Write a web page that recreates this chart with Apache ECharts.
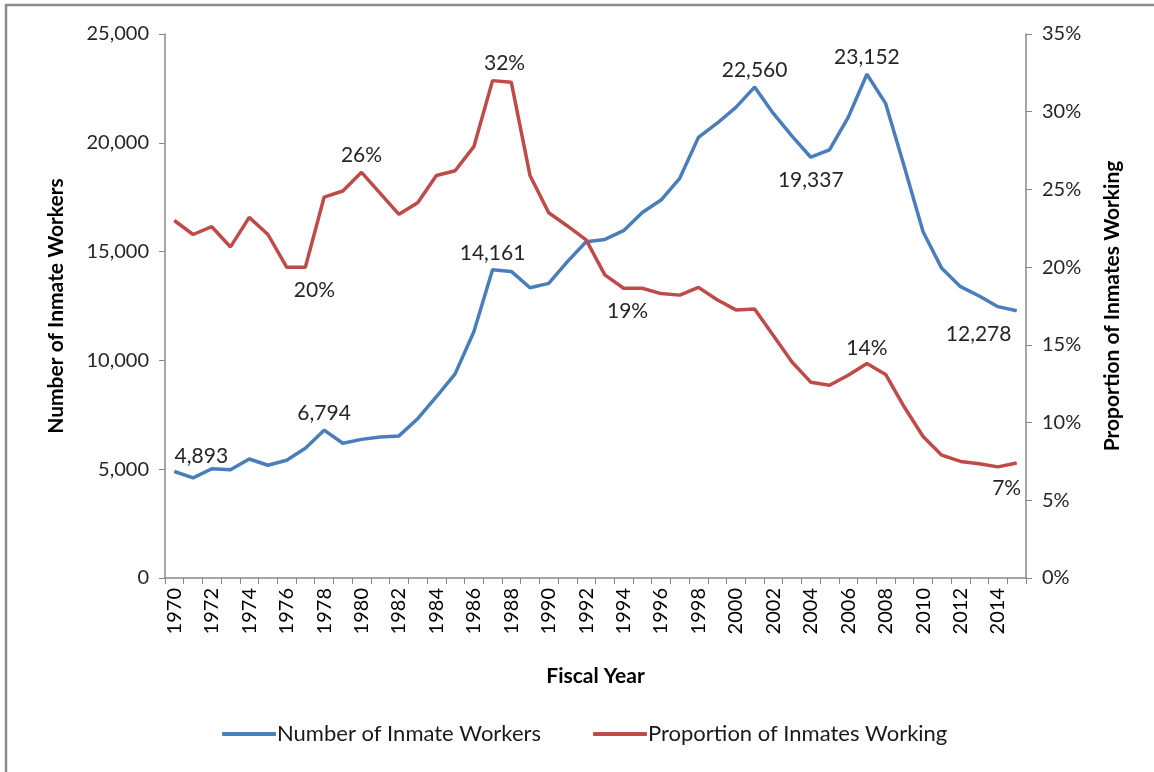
<!DOCTYPE html>
<html>
<head>
<meta charset="utf-8">
<script src="https://cdn.jsdelivr.net/npm/echarts@6/dist/echarts.min.js"></script>
<style>
  html, body { margin: 0; padding: 0; background: #fff; }
  #chart { width: 1154px; height: 772px; }
</style>
</head>
<body>
<div id="chart"></div>
<script>
// inmate workers vs proportion working, 1970-2015

const years = [];
for (let y = 1970; y <= 2015; y++) years.push(String(y));

const workers = [
  4893, 4600, 5020, 4970, 5470, 5180, 5410, 5960, 6794, 6190,
  6370, 6480, 6530, 7320, 8330, 9380, 11320, 14161, 14090, 13340,
  13540, 14540, 15450, 15560, 15960, 16800, 17370, 18370, 20250, 20900,
  21630, 22560, 21350, 20310, 19337, 19670, 21170, 23152, 21810, 18900,
  15910, 14230, 13390, 12960, 12470, 12278
];

const proportion = [
  23.0, 22.1, 22.6, 21.3, 23.2, 22.1, 20.0, 20.0, 24.5, 24.9,
  26.1, 24.75, 23.4, 24.15, 25.9, 26.2, 27.75, 32.0, 31.9, 25.9,
  23.5, 22.65, 21.75, 19.5, 18.64, 18.64, 18.3, 18.2, 18.7, 17.9,
  17.25, 17.3, 15.6, 13.9, 12.6, 12.4, 13.05, 13.8, 13.1, 11.0,
  9.1, 7.9, 7.5, 7.35, 7.15, 7.4
];

// which points carry a data label in the original
const workerLabels = [1970, 1978, 1987, 2001, 2004, 2007, 2015];
const proportionLabels = [1977, 1980, 1987, 1994, 2007, 2015];

const blue = '#4A7EBB';
const red = '#BE4B48';
const textFont = 'Lato';

const labelPos = {
  w1970: { position: 'top', offset: [27, 2] },
  w1978: { position: 'top' },
  w1987: { position: 'top' },
  w2001: { position: 'top' },
  w2004: { position: 'bottom', distance: 12 },
  w2007: { position: 'top' },
  w2015: { position: 'bottom', offset: [-38, 6] },
  p1977: { position: 'bottom', offset: [9, 6] },
  p1980: { position: 'top' },
  p1987: { position: 'top', offset: [12, 0] },
  p1994: { position: 'bottom', offset: [4, 6] },
  p2007: { position: 'top', distance: 4 },
  p2015: { position: 'bottom', offset: [-10, 8] }
};

function fmtNum(v) {
  return v.toString().replace(/\B(?=(\d{3})+(?!\d))/g, ',');
}

function buildData(values, labelYears, prefix, fmt) {
  return values.map((v, i) => {
    const yr = 1970 + i;
    if (labelYears.indexOf(yr) < 0) return v;
    const cfg = labelPos[prefix + yr] || { position: 'top' };
    return {
      value: v,
      label: Object.assign({
        show: true,
        distance: 6,
        formatter: fmt(v),
        color: '#262626',
        fontFamily: textFont,
        fontSize: 21
      }, cfg)
    };
  });
}

const axisName = { fontSize: 21, fontWeight: 'bold', color: '#000', fontFamily: textFont };

const myChart = echarts.init(document.getElementById('chart'));
myChart.setOption({
  backgroundColor: '#fff',
  animation: false,
  textStyle: { fontFamily: textFont },
  graphic: [{
    type: 'rect',
    shape: { x: 6, y: 5, width: 1300, height: 900 },
    style: { fill: 'none', stroke: '#8a8a8a', lineWidth: 2.5 },
    silent: true
  }],
  grid: { left: 165, right: 128, top: 34, bottom: 194 },
  legend: {
    bottom: 22,
    left: 217,
    itemGap: 52,
    itemWidth: 54,
    itemHeight: 4,
    icon: 'roundRect',
    textStyle: { fontSize: 22, color: '#1a1a1a', fontFamily: textFont, padding: [0, 0, 0, -4] },
    data: ['Number of Inmate Workers', 'Proportion of Inmates Working']
  },
  xAxis: {
    type: 'category',
    data: years,
    boundaryGap: true,
    name: 'Fiscal Year',
    nameLocation: 'middle',
    nameGap: 88,
    nameTextStyle: axisName,
    axisLine: { lineStyle: { color: '#888', width: 1.5 } },
    axisTick: { show: true, interval: 0, length: 6, lineStyle: { color: '#888' } },
    axisLabel: { interval: 1, rotate: 90, fontSize: 20, color: '#000', margin: 10, fontFamily: textFont }
  },
  yAxis: [{
    type: 'value',
    min: 0,
    max: 25000,
    interval: 5000,
    name: 'Number of Inmate Workers',
    nameLocation: 'middle',
    nameGap: 98,
    nameTextStyle: axisName,
    splitLine: { show: false },
    axisLine: { show: true, lineStyle: { color: '#888', width: 1.5 } },
    axisTick: { show: true, length: 6, lineStyle: { color: '#888' } },
    axisLabel: { fontSize: 20, color: '#262626', margin: 16, formatter: v => fmtNum(v), fontFamily: textFont }
  }, {
    type: 'value',
    min: 0,
    max: 35,
    interval: 5,
    name: 'Proportion of Inmates Working',
    nameLocation: 'middle',
    nameGap: 76,
    nameRotate: 90,
    nameTextStyle: axisName,
    splitLine: { show: false },
    axisLine: { show: true, lineStyle: { color: '#888', width: 1.5 } },
    axisTick: { show: true, length: 6, lineStyle: { color: '#888' } },
    axisLabel: { fontSize: 20, color: '#262626', margin: 16, formatter: v => v + '%', fontFamily: textFont }
  }],
  series: [{
    name: 'Number of Inmate Workers',
    type: 'line',
    yAxisIndex: 0,
    showSymbol: true,
    showAllSymbol: true,
    symbol: 'circle',
    symbolSize: 1,
    color: blue,
    lineStyle: { width: 3.5, color: blue },
    data: buildData(workers, workerLabels, 'w', fmtNum)
  }, {
    name: 'Proportion of Inmates Working',
    type: 'line',
    yAxisIndex: 1,
    showSymbol: true,
    showAllSymbol: true,
    symbol: 'circle',
    symbolSize: 1,
    color: red,
    lineStyle: { width: 3.5, color: red },
    data: buildData(proportion, proportionLabels, 'p', v => Math.round(v) + '%')
  }]
});
</script>
</body>
</html>
